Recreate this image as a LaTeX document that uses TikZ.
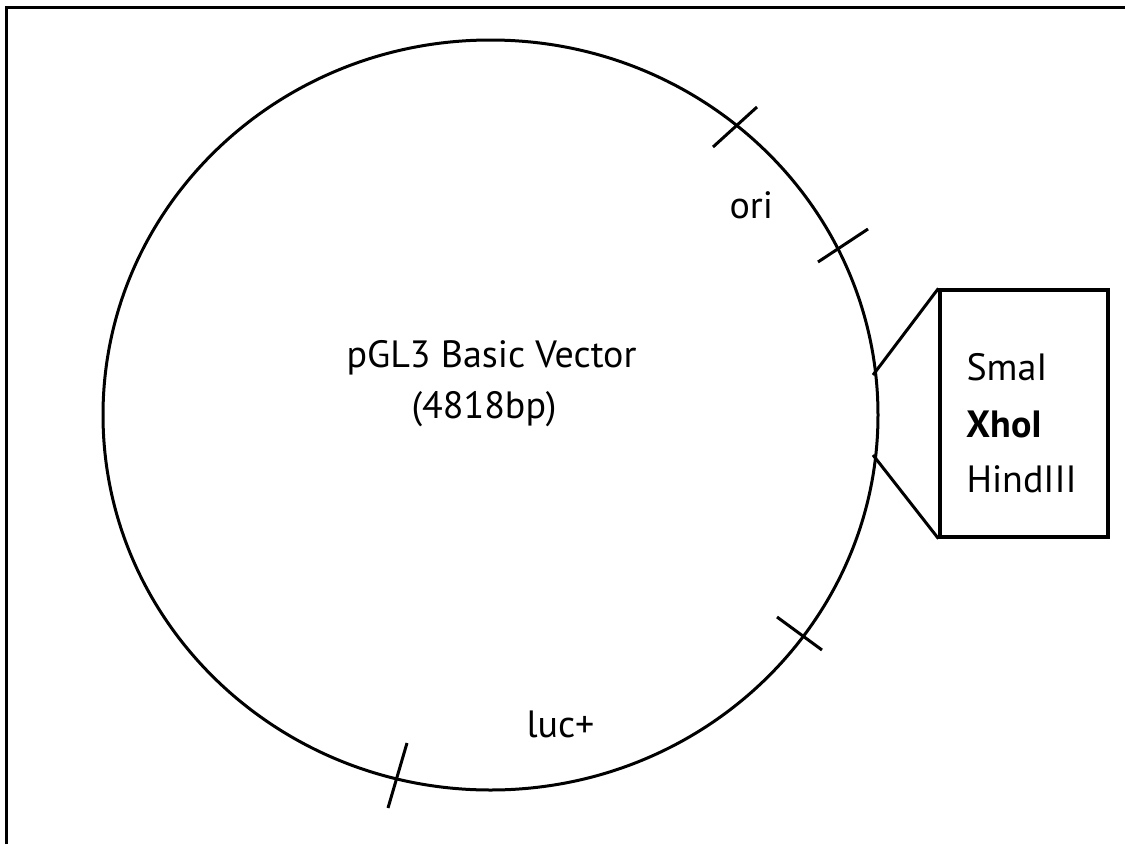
\documentclass[tikz,border=0pt]{standalone}
\usepackage{fontspec}
\setmainfont{PT Sans}
\begin{document}
\begin{tikzpicture}[x=1pt,y=-1pt,line width=3pt,
  lbl/.style={anchor=base west,inner sep=0pt,font=\fontsize{38}{44}\selectfont},
  tick/.style={line width=3pt},
  sitebox/.style={draw,line width=3.2pt,rectangle,inner sep=0pt,minimum width=168pt,minimum height=247pt}]
\useasboundingbox (0,0) rectangle (1125,844);
% frame
\draw[line width=3pt] (6,844) -- (6,7) -- (1125,7);
% plasmid
\draw (490.5,415) ellipse [x radius=387.5, y radius=375];
% ticks
\coordinate (t1a) at (713,147); \coordinate (t1b) at (757,107);
\coordinate (t2a) at (818,262); \coordinate (t2b) at (868,229);
\coordinate (t3a) at (777,617); \coordinate (t3b) at (822,650);
\coordinate (t4a) at (407,743); \coordinate (t4b) at (388,808);
\draw[tick] (t1a) -- (t1b);
\draw[tick] (t2a) -- (t2b);
\draw[tick] (t3a) -- (t3b);
\draw[tick] (t4a) -- (t4b);
% box
\node[sitebox] (box) at (1024,413.5) {};
\coordinate (m1) at (873,375);
\coordinate (m2) at (873,455);
\draw (m1) -- (box.north west);
\draw (m2) -- (box.south west);
% labels
\node[lbl] (title) at (345,367) {pGL3 Basic Vector};
\node[lbl] (size) at (410,418) {(4818bp)};
\node[lbl] (ori) at (728,218) {ori};
\node[lbl] (luc) at (525,737) {luc+};
\node[lbl] (sma) at (965,380) {SmaI};
\node[lbl,font=\fontsize{38}{44}\selectfont\bfseries] (xho) at (965,437) {XhoI};
\node[lbl] (hind) at (965,492) {HindIII};
\end{tikzpicture}
\end{document}
